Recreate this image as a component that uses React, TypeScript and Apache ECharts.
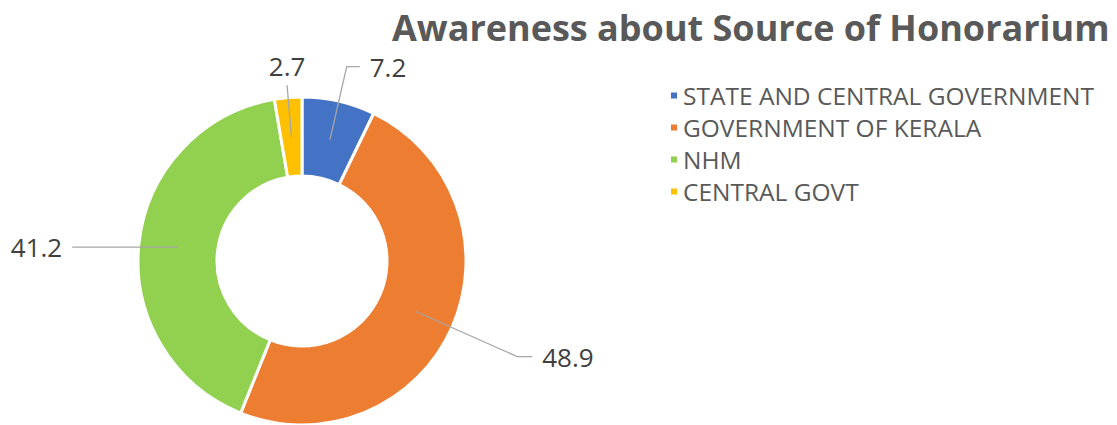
import React, { useEffect, useRef } from "react";
import * as echarts from "echarts";

const categories = [
  "STATE AND CENTRAL GOVERNMENT",
  "GOVERNMENT OF KERALA",
  "NHM",
  "CENTRAL GOVT",
];
const values = [7.2, 48.9, 41.2, 2.7];
const colors = ["#4472C4", "#ED7D31", "#92D050", "#FFC000"];
// label guide line lengths [radial, horizontal]
const lineLengths = [
  [75, 13],
  [111, 15],
  [5, 101],
  [52, 0],
];
const titleText = "Awareness about Source of Honorarium";
const FONT = "'Open Sans', sans-serif";

export default function App() {
  const ref = useRef<HTMLDivElement>(null);
  useEffect(() => {
    document.body.style.margin = "0";
    if (!ref.current) return;
    const chart = echarts.init(ref.current, undefined, { renderer: "svg" });
    chart.setOption({
      animation: false,
      backgroundColor: "#ffffff",
      textStyle: { fontFamily: FONT },
      title: {
        text: titleText,
        left: 392,
        top: 9,
        padding: 0,
        textStyle: {
          fontFamily: FONT,
          fontWeight: "bold",
          fontSize: 36,
          color: "#595959",
        },
      },
      legend: {
        orient: "vertical",
        left: 669,
        top: 83,
        padding: 0,
        icon: "rect",
        itemWidth: 8,
        itemHeight: 8,
        itemGap: 7,
        itemTextGap: 13,
        data: categories,
        textStyle: {
          fontFamily: FONT,
          fontSize: 24.5,
          color: "#595959",
        },
      },
      series: [
        {
          type: "pie",
          z: 2,
          center: [302, 261],
          radius: [85, 164],
          startAngle: 90,
          clockwise: true,
          silent: true,
          label: { show: false },
          labelLine: { show: false },
          itemStyle: { borderColor: "#ffffff", borderWidth: 3 },
          data: categories.map((name, i) => ({
            name,
            value: values[i],
            itemStyle: { color: colors[i] },
          })),
        },
        {
          type: "pie",
          z: 3,
          center: [302, 261],
          radius: [0, 124.5],
          startAngle: 90,
          clockwise: true,
          silent: true,
          avoidLabelOverlap: false,
          itemStyle: { color: "rgba(0,0,0,0)", borderWidth: 0 },
          label: {
            show: true,
            position: "outside",
            formatter: (p: any) => String(p.value),
            fontFamily: FONT,
            fontSize: 26,
            color: "#404040",
            distanceToLabelLine: 10,
          },
          labelLine: {
            show: true,
            lineStyle: { color: "#a6a6a6", width: 1.3 },
          },
          labelLayout: (p: any) =>
            p.dataIndex === 3 ? { align: "center", verticalAlign: "bottom" } : {},
          data: categories.map((name, i) => ({
            name,
            value: values[i],
            label: i === 3 ? { distanceToLabelLine: 0, padding: [0, 0, 6, 0] } : {},
            labelLine: { length: lineLengths[i][0], length2: lineLengths[i][1] },
          })),
        },
      ],
    });
    return () => chart.dispose();
  }, []);
  return <div ref={ref} style={{ width: 1117, height: 425 }} />;
}
